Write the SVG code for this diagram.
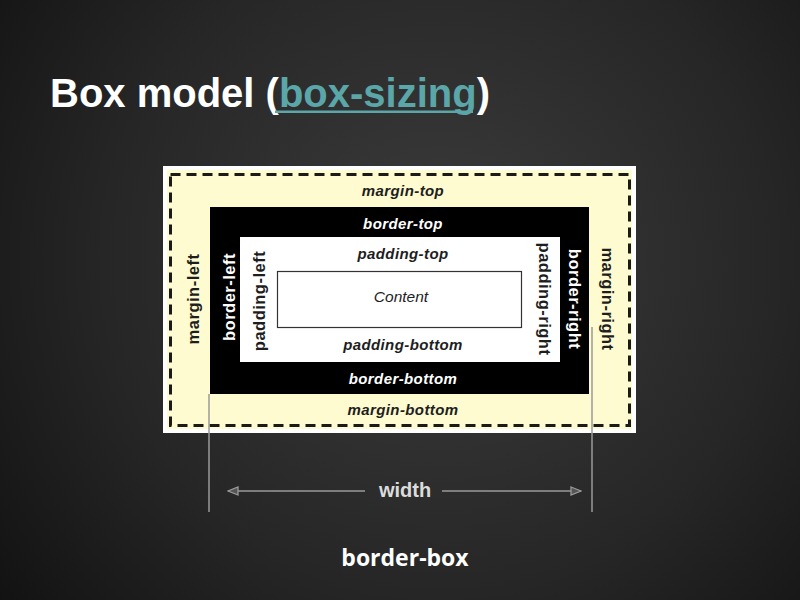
<svg xmlns="http://www.w3.org/2000/svg" width="800" height="600" viewBox="0 0 800 600">
<defs>
<radialGradient id="bg" cx="440" cy="260" r="560" gradientUnits="userSpaceOnUse">
<stop offset="0" stop-color="#3c3c3c"/>
<stop offset="0.6" stop-color="#262626"/>
<stop offset="1" stop-color="#121212"/>
</radialGradient>
<marker id="arr" viewBox="0 0 12 10" refX="11" refY="5" markerWidth="12" markerHeight="10" markerUnits="userSpaceOnUse" orient="auto-start-reverse">
<path d="M1,1 L11,5 L1,9 Z" fill="#555" stroke="#9a9a9a" stroke-width="1.3"/>
</marker>
</defs>
<style>
.lbl{font-family:"Liberation Sans",Arial,sans-serif;font-weight:bold;font-style:italic;font-size:15px;letter-spacing:0.4px;text-anchor:middle;dominant-baseline:central}
.vl{font-family:"Liberation Sans",Arial,sans-serif;font-weight:bold;font-size:16.5px;letter-spacing:0.5px;text-anchor:middle;dominant-baseline:central}
.dark{fill:#1e1e1e}
.light{fill:#ffffff}
.guide{stroke:#9a9a9a;stroke-width:1.5;fill:none}
</style>
<rect width="800" height="600" fill="url(#bg)"/>

<g id="title">
<text x="50" y="107" font-family="Liberation Sans,Arial,sans-serif" font-weight="bold" font-size="40" fill="#ffffff">Box model (<tspan fill="#5aa6a8">box-sizing</tspan>)</text>
<rect x="275" y="110.5" width="198" height="2.5" fill="#5aa6a8"/>
</g>

<g id="margin-box">
<rect x="163" y="166" width="473" height="267" fill="#ffffff"/>
<rect x="167" y="170" width="465" height="259" fill="#fffbd0"/>
<rect x="170.5" y="174.5" width="459" height="251" fill="none" stroke="#1a1a1a" stroke-width="3" stroke-dasharray="10,6"/>
<text class="lbl dark" x="403" y="190">margin-top</text>
<text class="lbl dark" x="403" y="409">margin-bottom</text>
<text class="vl dark" transform="translate(193,299) rotate(-90)" x="0" y="0">margin-left</text>
<text class="vl dark" transform="translate(608,299) rotate(90)" x="0" y="0">margin-right</text>
</g>

<g id="border-box">
<rect x="210" y="207" width="379" height="187" fill="#000000"/>
<text class="lbl light" x="403" y="223">border-top</text>
<text class="lbl light" x="403" y="378">border-bottom</text>
<text class="vl light" transform="translate(229,297) rotate(-90)" x="0" y="0">border-left</text>
<text class="vl light" transform="translate(575,299) rotate(90)" x="0" y="0">border-right</text>
</g>

<g id="padding-box">
<rect x="240" y="237" width="320" height="125" fill="#ffffff"/>
<text class="lbl dark" x="403" y="253">padding-top</text>
<text class="lbl dark" x="403" y="344">padding-bottom</text>
<text class="vl dark" transform="translate(259,301) rotate(-90)" x="0" y="0">padding-left</text>
<text class="vl dark" transform="translate(545,299) rotate(90)" x="0" y="0">padding-right</text>
</g>

<g id="content-box">
<rect x="277.5" y="271.5" width="244" height="56" fill="#ffffff" stroke="#333333" stroke-width="1.2"/>
<text x="401" y="296" font-family="Liberation Sans,Arial,sans-serif" font-style="italic" font-size="15.5" text-anchor="middle" dominant-baseline="central" fill="#1e1e1e">Content</text>
</g>

<g id="connectors">
<line class="guide" x1="209" y1="394" x2="209" y2="512"/>
<line class="guide" x1="592" y1="327" x2="592" y2="512"/>
<line class="guide" x1="365" y1="491" x2="228" y2="491" marker-end="url(#arr)"/>
<line class="guide" x1="442" y1="491" x2="581" y2="491" marker-end="url(#arr)"/>
</g>

<g id="labels">
<text x="405" y="497" font-family="Liberation Sans,Arial,sans-serif" font-weight="bold" font-size="20" text-anchor="middle" fill="#dcdcdc">width</text>
<text x="405" y="566" font-family="Open Sans,DejaVu Sans,sans-serif" font-weight="700" font-size="23" text-anchor="middle" fill="#ffffff">border-box</text>
</g>
</svg>
